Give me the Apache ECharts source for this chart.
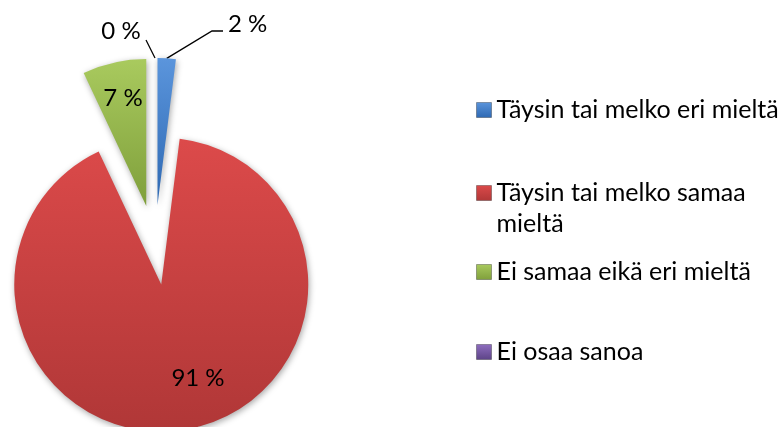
<!DOCTYPE html>
<html><head><meta charset="utf-8">
<script src="https://cdn.jsdelivr.net/npm/echarts@6/dist/echarts.min.js"></script>
<style>html,body{margin:0;padding:0;background:#fff}#c{width:782px;height:427px}</style>
</head><body><div id="c"></div>
<script>
const categories = ['Täysin tai melko eri mieltä', 'Täysin tai melko samaa mieltä', 'Ei samaa eikä eri mieltä', 'Ei osaa sanoa'];
const values = [2, 91, 7, 0];
const colorsTop = ['#5b95dc', '#dc4a4a', '#a9ca5e', '#8f6ec0'];
const colorsBottom = ['#2d68b2', '#b03737', '#7f9f3b', '#5c4386'];
const legendCenters = [110, 193, 272, 352];
// label anchor positions [x, y, align]
const labelPos = [[228, 24, 'left'], [198, 378, 'center'], [123, 98, 'center'], [121, 31, 'center']];

const baseCenter = [155, 245];
const radius = 147;
const explode = 40;

const chart = echarts.init(document.getElementById('c'), null, {renderer: 'canvas'});
const grad = i => new echarts.graphic.LinearGradient(0, 0, 0, 1, [
  {offset: 0, color: colorsTop[i]}, {offset: 1, color: colorsBottom[i]}
]);
const total = values.reduce((a, b) => a + b, 0);
let cum = 0;
const series = categories.map((n, i) => {
  const mid = (cum + values[i] / 2) / total * 2 * Math.PI;
  cum += values[i];
  const cx = baseCenter[0] + explode * Math.sin(mid);
  const cy = baseCenter[1] - explode * Math.cos(mid);
  const outside = (i === 0 || i === 3);
  return {
    type: 'pie', center: [cx, cy], radius: radius, startAngle: 90, clockwise: true,
    avoidLabelOverlap: false, silent: true, emphasis: {disabled: true},
    label: {formatter: '{c} %', fontFamily: 'Lato', fontSize: 24, color: '#000'},
    labelLine: {lineStyle: {color: '#000', width: 1.3}, length: 20, length2: 10},
    labelLayout: function (p) {
      if (p.dataIndex !== i) return {};
      const lp = labelPos[i];
      const out = {x: lp[0], y: lp[1], align: lp[2], verticalAlign: 'middle'};
      const pts = p.labelLinePoints;
      if (outside && pts && pts.length) {
        const p0 = pts[0];
        if (i === 0) {
          out.labelLinePoints = [p0, [lp[0] - 16, lp[1] + 7], [lp[0] - 5, lp[1] + 7]];
        } else {
          out.labelLinePoints = [p0, [lp[0] + 25, lp[1] + 9], [lp[0] + 25, lp[1] + 9]];
        }
      }
      return out;
    },
    data: categories.map((m, j) => ({
      name: m, value: values[j],
      itemStyle: j === i
        ? {color: grad(j), shadowBlur: 6, shadowColor: 'rgba(0,0,0,0.35)', shadowOffsetX: 1, shadowOffsetY: 2}
        : {color: 'rgba(0,0,0,0)', shadowBlur: 0, shadowColor: 'rgba(0,0,0,0)', borderWidth: 0},
      label: {show: j === i, position: outside ? 'outside' : 'inside'},
      labelLine: {show: j === i && outside}
    }))
  };
});

chart.setOption({
  animation: false,
  legend: categories.map((n, i) => {
    const lines = i === 1 ? 3 : 1;
    return {
      data: [{name: n, itemStyle: {color: grad(i), borderColor: 'rgba(0,0,0,0.3)', borderWidth: 1}}],
      orient: 'vertical', left: 476, top: legendCenters[i] - lines * 31 / 2, padding: 0,
      itemWidth: 15, itemHeight: 15, icon: 'rect', selectedMode: false,
      formatter: i === 1 ? (nm => '\n' + nm) : '{name}',
      textStyle: {fontFamily: 'Lato', fontSize: 25, color: '#000', lineHeight: 31,
        width: i === 1 ? 290 : 330, overflow: 'break'}
    };
  }),
  series: series
});
</script></body></html>
